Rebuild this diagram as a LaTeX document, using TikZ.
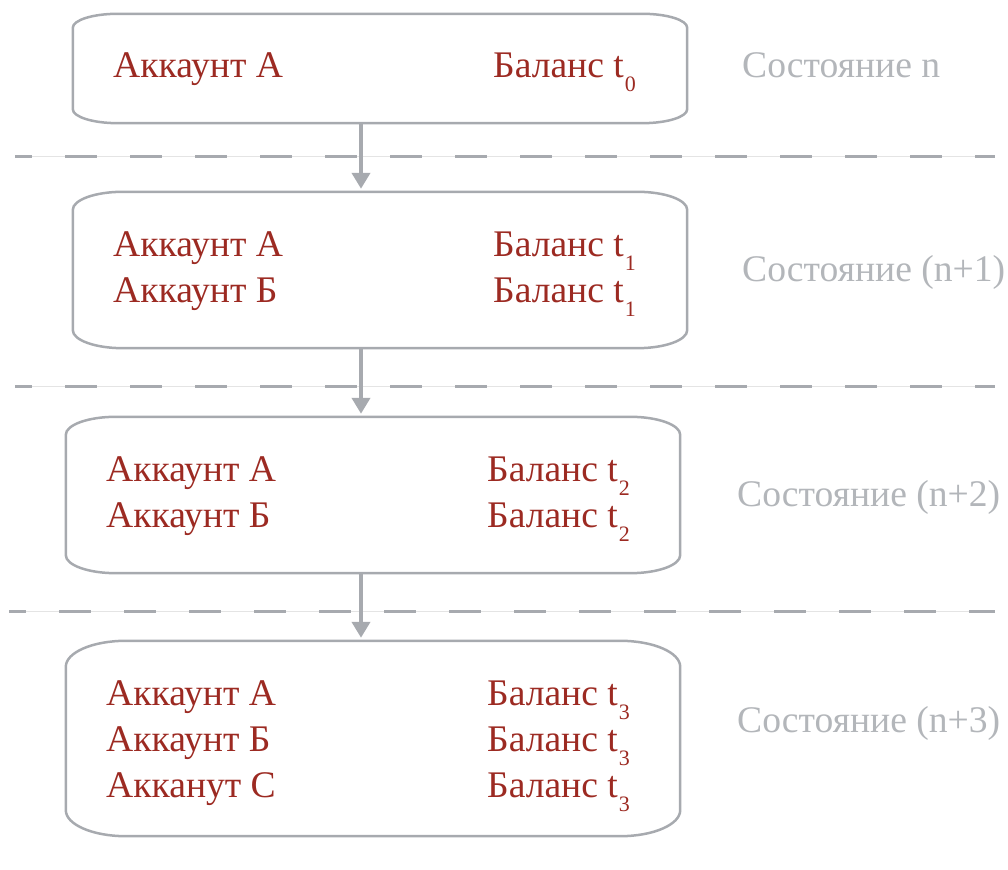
\documentclass[tikz,border=0pt]{standalone}
\usepackage{fontspec}
\setmainfont{Liberation Serif}
\usetikzlibrary{calc,arrows.meta}

\definecolor{acctred}{HTML}{9C2A22}
\definecolor{framegrey}{HTML}{A7AAAF}
\definecolor{labelgrey}{HTML}{B3B6BA}
\definecolor{rulegrey}{HTML}{E4E4E4}

% balance with a lowered index
\newcommand{\bal}[1]{Баланс t\kern1pt\raisebox{-14pt}{\fontsize{22}{22}\selectfont #1}}

% outline with elliptical corners around a node: node, x radius, y radius
\newcommand{\accframe}[3]{%
  \draw[frameline]
    ($(#1.north west)+(#2,0)$) -- ($(#1.north east)+(-#2,0)$)
    arc[start angle=90,end angle=0,x radius=#2,y radius=#3]
    -- ($(#1.south east)+(0,#3)$)
    arc[start angle=0,end angle=-90,x radius=#2,y radius=#3]
    -- ($(#1.south west)+(#2,0)$)
    arc[start angle=270,end angle=180,x radius=#2,y radius=#3]
    -- ($(#1.north west)+(0,-#3)$)
    arc[start angle=180,end angle=90,x radius=#2,y radius=#3]
    -- cycle;}

\tikzset{
  boxarea/.style={rectangle,draw=none,inner sep=0pt,minimum width=614pt},
  frameline/.style={draw=framegrey,line width=2.5pt},
  acct/.style={anchor=base west,inner sep=0pt,text=acctred,font=\fontsize{37.6}{44}\selectfont},
  state/.style={anchor=base west,inner sep=0pt,text=labelgrey,font=\fontsize{37.6}{44}\selectfont},
  thinrule/.style={draw=rulegrey,line width=1pt},
  dashrule/.style={draw=framegrey,line width=3pt,dash pattern=on 32pt off 33pt,dash phase=15pt},
  flow/.style={draw=framegrey,line width=4.5pt,-{Triangle[width=18pt,length=16pt]},shorten >=3pt}
}

\begin{document}
\begin{tikzpicture}[x=1pt,y=1pt]
\useasboundingbox (0,0) rectangle (1008,869);

% state boxes
\node[boxarea,minimum height=109pt] (b1) at (380,800.5) {};
\node[boxarea,minimum height=156pt] (b2) at (380,599) {};
\node[boxarea,minimum height=156pt] (b3) at (373,374) {};
\node[boxarea,minimum height=195pt] (b4) at (373,130.5) {};
\accframe{b1}{45}{14}
\accframe{b2}{50}{18}
\accframe{b3}{50}{18}
\accframe{b4}{60}{26}

% separators between states
\foreach \yy/\xs in {712/15,482/15,257/9}{
  \draw[thinrule] (\xs,\yy) -- (995,\yy);
  \draw[dashrule] (\xs,\yy) -- (995,\yy);
}

% transitions
\draw[flow] ([xshift=-19pt]b1.south) -- ([xshift=-19pt]b2.north);
\draw[flow] ([xshift=-19pt]b2.south) -- ([xshift=-12pt]b3.north);
\draw[flow] ([xshift=-12pt]b3.south) -- ([xshift=-12pt]b4.north);

% state n
\node[acct] (a1) at (113,791) {Аккаунт А};
\node[acct] (r1) at (493,791) {\bal{0}};
\node[state] (s1) at (742,791) {Состояние n};

% state n+1
\node[acct] (a2a) at (113,612) {Аккаунт А};
\node[acct] (a2b) at (113,566) {Аккаунт Б};
\node[acct] (r2a) at (493,612) {\bal{1}};
\node[acct] (r2b) at (493,566) {\bal{1}};
\node[state] (s2) at (742,587) {Состояние (n+1)};

% state n+2
\node[acct] (a3a) at (106,387) {Аккаунт А};
\node[acct] (a3b) at (106,341) {Аккаунт Б};
\node[acct] (r3a) at (487,387) {\bal{2}};
\node[acct] (r3b) at (487,341) {\bal{2}};
\node[state] (s3) at (737,362) {Состояние (n+2)};

% state n+3
\node[acct] (a4a) at (106,163) {Аккаунт А};
\node[acct] (a4b) at (106,117) {Аккаунт Б};
\node[acct] (a4c) at (106,71) {Акканут С};
\node[acct] (r4a) at (487,163) {\bal{3}};
\node[acct] (r4b) at (487,117) {\bal{3}};
\node[acct] (r4c) at (487,71) {\bal{3}};
\node[state] (s4) at (737,136) {Состояние (n+3)};
\end{tikzpicture}
\end{document}
